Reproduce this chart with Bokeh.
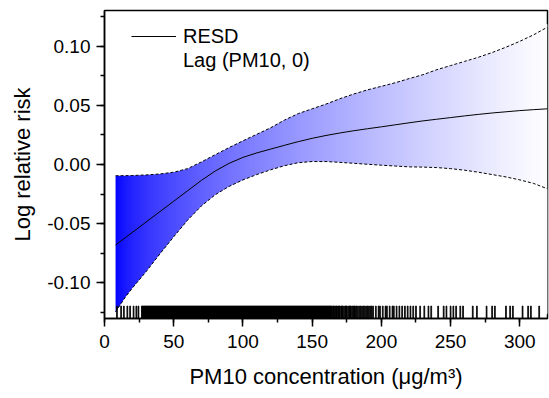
import numpy as np
from bokeh.plotting import figure
from bokeh.models import (SingleIntervalTicker, PrintfTickFormatter, Legend, LegendItem)
from bokeh.embed import file_html
from bokeh.resources import INLINE

# ---- data ----
pm10 = [8, 15, 20, 30, 40, 50, 60, 70, 80, 90, 100, 110, 120, 130, 140, 150, 160,
        170, 180, 190, 200, 210, 220, 230, 240, 250, 260, 270, 280, 290, 300, 310, 320]
log_rr = [-0.068, -0.0618, -0.0574, -0.0486, -0.0398, -0.031, -0.0222, -0.0134, -0.0055,
          0.001, 0.006, 0.0098, 0.013, 0.0162, 0.0193, 0.0221, 0.0245, 0.0266, 0.0285,
          0.0302, 0.0318, 0.0335, 0.0352, 0.0368, 0.0382, 0.0396, 0.041, 0.0423, 0.0435,
          0.0445, 0.0455, 0.0463, 0.047]
upper = [-0.0095, -0.0094, -0.0093, -0.0088, -0.008, -0.0065, -0.0035, 0.0022, 0.0083,
         0.0143, 0.020, 0.0255, 0.031, 0.0375, 0.043, 0.047, 0.051, 0.0555, 0.0595, 0.063,
         0.066, 0.069, 0.0725, 0.0758, 0.080, 0.0835, 0.087, 0.0905, 0.0945, 0.099, 0.104,
         0.1095, 0.116]
lower = [-0.1245, -0.112, -0.1045, -0.0905, -0.0755, -0.061, -0.047, -0.035, -0.0255,
         -0.0185, -0.013, -0.0085, -0.0045, -0.001, 0.0015, 0.0025, 0.0025, 0.0018, 0.001,
         0.0002, -0.0006, -0.0013, -0.002, -0.0022, -0.0026, -0.0035, -0.0048, -0.0065,
         -0.0085, -0.0105, -0.013, -0.016, -0.0205]

rug_pm10 = [9, 12, 14, 16.5, 18.5, 21, 23, 24.5,
            27, 27.5, 28, 28.5, 29, 29.5, 30, 30.5, 31, 31.5, 32, 32.5, 33, 33.5, 34, 34.5,
            35, 35.5, 36, 36.5, 37, 37.5, 38, 38.5, 39, 39.5, 40, 40.5, 41, 41.5, 42, 42.5,
            43, 43.5, 44, 44.5, 45, 45.5, 46, 46.5, 47, 47.5, 48, 48.5, 49, 49.5, 50, 50.5,
            51, 51.5, 52, 52.5, 53, 53.5, 54, 54.5, 55, 55.5, 56, 56.5, 57, 57.5, 58, 58.5,
            59, 59.5, 60, 60.5, 61, 61.5, 62, 62.5, 63, 63.5, 64, 64.5, 65, 65.5, 66, 66.5,
            67, 67.5, 68, 68.5, 69, 69.5, 70, 70.5, 71, 71.5, 72, 72.5, 73, 73.5, 74, 74.5,
            75, 75.5, 76, 76.5, 77, 77.5, 78, 78.5, 79, 79.5, 80, 80.5, 81, 81.5, 82, 82.5,
            83, 83.5, 84, 84.5, 85, 85.5, 86, 86.5, 87, 87.5, 88, 88.5, 89, 89.5, 90, 90.5,
            91, 91.5, 92, 92.5, 93, 93.5, 94, 94.5, 95, 95.5, 96, 96.5, 97, 97.5, 98, 98.5,
            99, 99.5, 100, 100.5, 101, 101.5, 102, 102.5, 103, 103.5, 104, 104.5, 105, 105.5,
            106, 106.5, 107, 107.5, 108, 108.5, 109, 109.5, 110, 110.5, 111, 111.5, 112,
            112.5, 113, 113.5, 114, 114.5, 115, 115.5, 116, 116.5, 117, 117.5, 118, 118.5,
            119, 119.5, 120, 120.5, 121, 121.5, 122, 122.5, 123, 123.5, 124, 124.5, 125,
            125.5, 126, 126.5, 127, 127.5, 128, 128.5, 129, 129.5, 130, 130.5, 131, 131.5,
            132, 132.5, 133, 133.5, 134, 134.5, 135, 135.5, 136, 136.5, 137, 137.5, 138,
            138.5, 139, 139.5, 140, 140.5, 141, 141.5, 142, 142.5, 143, 143.5, 144, 144.5,
            145, 145.5, 146, 146.5, 147, 147.5, 148, 148.5, 149, 149.5, 150, 150.5, 151,
            151.5, 152, 152.5, 153, 153.5, 154, 154.5, 155, 155.5, 156, 156.5, 157, 157.5,
            158, 158.5, 159, 159.5, 160, 160.5, 161, 161.5, 162, 162.5, 163, 163.5, 164,
            165, 165.5, 166, 167, 167.5, 168, 169, 169.5, 170, 171, 171.5, 172, 173, 174,
            174.5, 175, 176, 177, 177.5, 178, 179, 180, 180.5, 181, 182, 183, 184, 185,
            186, 187, 188, 189, 190, 191, 192, 193, 194,
            196, 198, 199, 201, 203, 204, 206, 208, 209, 211, 213, 215, 217, 219, 221,
            223, 225, 228, 231, 234, 236, 241, 245, 247, 250, 252, 254, 257, 259, 266,
            269, 276, 280, 282, 290, 293, 295, 302, 306, 308, 314]

x_ticks_interval = 50
y_ticks_interval = 0.05

FONT = "Liberation Sans"

p = figure(width=549, height=398, x_range=(0, 320), y_range=(-0.13, 0.13),
           output_backend="svg", toolbar_location=None,
           min_border_left=104, min_border_right=2, min_border_top=10, min_border_bottom=80)
p.grid.visible = False
p.outline_line_color = "black"
p.outline_line_width = 1.5
p.background_fill_color = "white"
p.border_fill_color = "white"

# ---- gradient band (blue -> white), masked outside the confidence limits ----
x0, x1 = pm10[0], pm10[-1]
ybot, ytop = min(lower) - 0.001, max(upper) + 0.0015
ncol = 440
frac = (np.arange(ncol) / (ncol - 1)) ** 0.6
img = np.empty((1, ncol), dtype=np.uint32)
view = img.view(dtype=np.uint8).reshape((1, ncol, 4))
view[0, :, 0] = np.round(255 * frac).astype(np.uint8)
view[0, :, 1] = np.round(255 * frac).astype(np.uint8)
view[0, :, 2] = 255
view[0, :, 3] = 255
p.image_rgba(image=[img], x=x0, y=ybot, dw=x1 - x0, dh=ytop - ybot)
n = len(pm10)
p.varea(x=pm10, y1=upper, y2=[ytop + 0.001] * n, fill_color="white")
p.varea(x=pm10, y1=[ybot - 0.001] * n, y2=lower, fill_color="white")
# clean the left edge of the gradient outside the band
p.segment(x0=[x0, x0], x1=[x0, x0], y0=[upper[0], lower[0]], y1=[ytop + 0.001, ybot - 0.001],
          line_color="white", line_width=2.5)

p.line(pm10, upper, line_color="black", line_width=1, line_dash="3 2")
p.line(pm10, lower, line_color="black", line_width=1, line_dash="3 2")
main = p.line(pm10, log_rr, line_color="black", line_width=1)

# rug (thin bars)
p.vbar(x=rug_pm10, width=0.6, bottom=-0.13, top=-0.1195,
       fill_color="black", line_color="black", line_width=0.8)

dummy = p.line([], [], line_alpha=0)

legend = Legend(items=[LegendItem(label="RESD", renderers=[main]),
                       LegendItem(label="Lag (PM10, 0)", renderers=[dummy])],
                location=(27, 246), margin=0, padding=0, spacing=0,
                glyph_width=45, glyph_height=24, label_height=24, label_standoff=7,
                label_text_font=FONT, label_text_font_size="20px", label_text_color="black",
                border_line_alpha=0, background_fill_alpha=0)
p.add_layout(legend)

# axes
for ax in (p.xaxis[0], p.yaxis[0]):
    ax.axis_line_width = 1.5
    ax.axis_line_color = "black"
    ax.major_tick_line_color = "black"
    ax.minor_tick_line_color = "black"
    ax.major_tick_line_width = 1.5
    ax.minor_tick_line_width = 1.5
    ax.major_tick_in = 0
    ax.minor_tick_in = 0
    ax.major_tick_out = 8
    ax.minor_tick_out = 4
    ax.major_label_text_font = FONT
    ax.major_label_text_font_size = "19px"
    ax.major_label_text_color = "black"
    ax.axis_label_text_font = FONT
    ax.axis_label_text_font_size = "22px"
    ax.axis_label_text_font_style = "normal"
    ax.axis_label_text_color = "black"

p.xaxis.ticker = SingleIntervalTicker(interval=x_ticks_interval, num_minor_ticks=2)
p.yaxis.ticker = SingleIntervalTicker(interval=y_ticks_interval, num_minor_ticks=2)
p.yaxis.formatter = PrintfTickFormatter(format="%.2f")
p.xaxis.axis_label = "PM10 concentration (μg/m³)"
p.yaxis.axis_label = "Log relative risk"
p.xaxis.major_label_standoff = 8
p.yaxis.major_label_standoff = 6
p.xaxis.axis_label_standoff = 13
p.yaxis.axis_label_standoff = 9

open("out.html", "w").write(file_html(p, INLINE))
